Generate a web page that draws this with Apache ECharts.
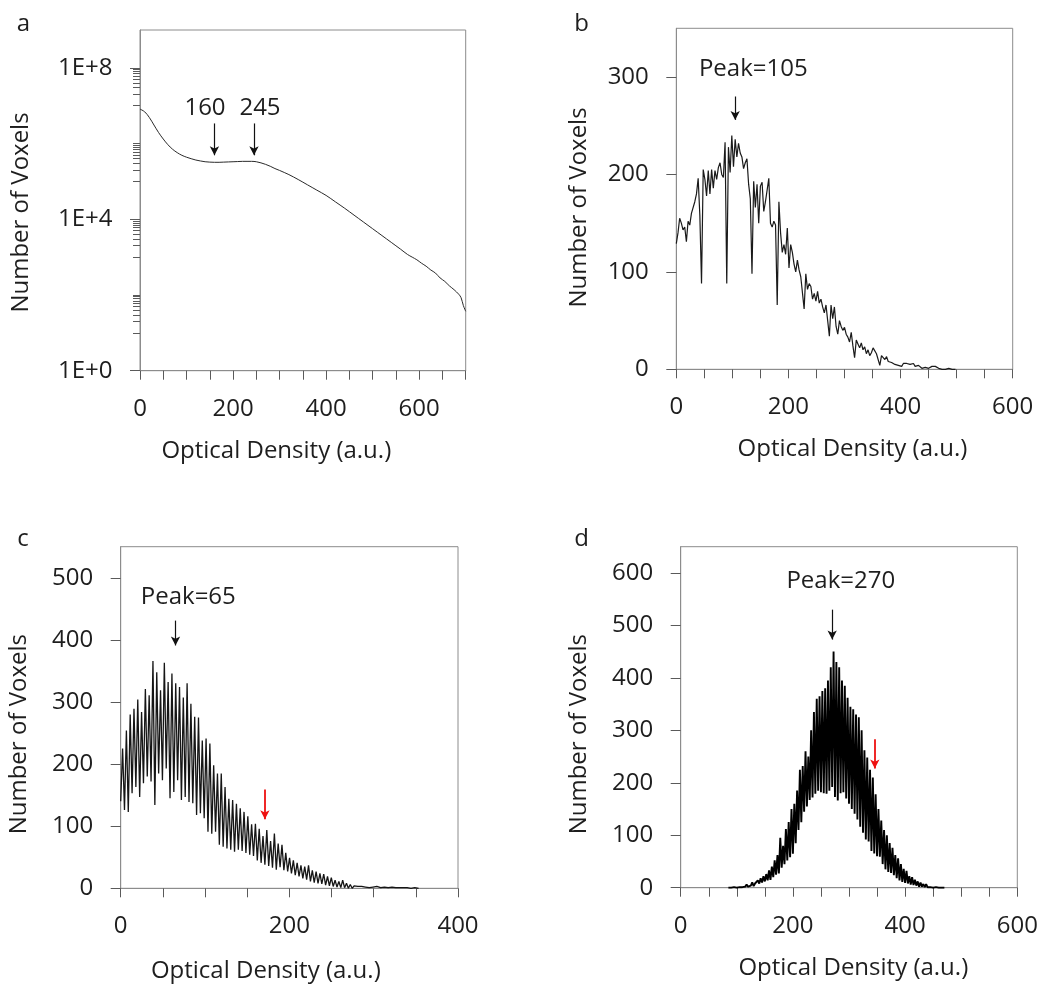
<!DOCTYPE html>
<html>
<head>
<meta charset="utf-8">
<script src="https://cdn.jsdelivr.net/npm/echarts@6/dist/echarts.min.js"></script>
<style>
  html, body { margin: 0; padding: 0; background: #ffffff; }
  #chart { width: 1040px; height: 986px; }
</style>
</head>
<body>
<div id="chart"></div>
<script>
// ---- Panel a: whole-volume histogram, log10 of voxel count ----
const aOD = [0,10,20,30,40,50,60,70,80,90,100,110,120,130,140,150,160,170,180,190,200,210,220,230,240,250,260,270,280,290,300,
  320,340,360,380,400,420,440,460,480,500,520,540,560,
  575,585,595,605,615,625,635,645,655,665,675,685,690,695,700];
const aLogCount = [6.91,6.84,6.69,6.49,6.29,6.12,5.97,5.85,5.76,5.69,5.64,5.60,5.565,5.54,5.52,5.51,5.505,5.505,5.51,5.515,
  5.52,5.525,5.53,5.53,5.53,5.52,5.49,5.45,5.40,5.34,5.29,
  5.18,5.05,4.91,4.77,4.63,4.46,4.29,4.11,3.93,3.75,3.57,3.39,3.21,
  3.07,3.00,2.93,2.84,2.76,2.66,2.58,2.45,2.36,2.24,2.14,2.02,1.93,1.72,1.57];
const aMarks = [160, 245];
const aMarkTop = 3.4e6, aMarkBottom = 4.9e5;

// ---- Panel b: counts every 3 OD units ----
const bStep = 3;
const bCount = [129,140,155,150,143,146,131,152,148,160,158,172,180,196,158,88,205,195,178,204,
  180,205,186,204,195,207,212,200,197,233,88,228,202,240,208,236,218,232,222,218,
  206,212,216,190,175,98,193,166,190,150,188,192,162,172,170,196,150,146,152,148,
  66,172,140,120,128,118,145,104,128,120,108,100,112,102,95,96,62,98,82,88,
  85,72,78,70,80,68,72,64,58,66,50,34,66,52,64,44,36,50,44,40,
  43,36,33,28,38,24,12,30,26,22,27,20,23,16,20,14,17,22,20,16,
  14,4,14,12,10,13,8,10,7,9,5,7,4,5,3,6,4,6,8,5,
  4,6,3,2,4,2,1,3,2,3,1,2,3,1,3,2,1,1,0,1,0,0,1,0,0,0,0];
const bPeak = 105;
const bMarkTop = 280, bMarkBottom = 256;

// ---- Panel c: alternating trough / crest values, period 4.5 OD units ----
const cStep = 4.5;
const cTrough = [140,126,123,153,163,147,169,180,172,134,185,174,193,145,155,174,142,147,139,137,
  118,121,113,91,88,91,70,67,64,62,59,
  62,60,57,54,52,45,41,38,36,33,30,34,29,27,24,21,19,16,14,11,9,8,7,5,4,3,2,1,1,0,0,1,0,0,0,0,0,0,0,0];
const cCrest = [225,254,280,289,304,284,321,311,366,348,319,363,332,346,330,324,307,330,297,276,
  275,238,241,233,198,185,185,163,144,142,136,
  129,123,116,103,104,96,84,94,76,88,72,70,57,49,45,41,37,35,37,29,27,24,23,19,17,13,11,13,8,6,
  4,3,3,2,1,2,3,1,2,1,2,1,1,1,1,0,1,0];
const cPeak = 65;
const cMarkTop = 431, cMarkBottom = 391;
const cRedX = 171, cRedTop = 159, cRedBottom = 111;

// ---- Panel d: alternating trough / crest values, period 5 OD units from 85 ----
const dStart = 85, dStep = 5;
const dTrough = [0,0,1,0,1,1,2,2,4,3,6,8,10,12,14,15,20,25,27,38,45,52,58,65,85,110,125,145,155,167,
  172,179,185,182,180,179,185,192,173,166,180,182,170,160,150,141,130,116,105,92,88,70,65,60,59,
  45,35,30,28,24,18,14,11,9,8,6,5,4,2,2,1,1,1,0,1,0,0,0];
const dCrest = [2,1,3,2,4,3,6,5,10,8,14,18,22,26,33,40,52,62,95,80,112,125,150,160,185,225,232,260,250,300,
  335,360,365,375,380,395,420,450,430,420,395,385,362,345,340,330,325,300,262,248,225,210,178,150,128,
  110,100,85,76,62,56,45,36,32,22,20,15,12,10,7,7,4,3,3,1,1,0];
const dPeak = 270;
const dMarkTop = 530, dMarkBottom = 473;
const dRedX = 346, dRedTop = 283, dRedBottom = 227;

// ---- tick positions ----
const aMajorTicks = [1, 1e4, 1e8];
const aMinorTicks = [];
[1, 3, 5, 7].forEach(function (n) {
  for (let k = 1; k <= 10; k++) aMinorTicks.push(k * Math.pow(10, n));
});

// ---- build series tables ----
const seriesA = aOD.map((x, i) => [x, Math.pow(10, aLogCount[i])]);
const seriesB = bCount.map((v, i) => [i * bStep, v]);
function interleave(start, step, trough, crest) {
  const out = [];
  const n = Math.max(trough.length, crest.length);
  for (let i = 0; i < n; i++) {
    if (i < trough.length) out.push([start + i * step, trough[i]]);
    if (i < crest.length) out.push([start + i * step + step / 2, crest[i]]);
  }
  return out;
}
const seriesC = interleave(0, cStep, cTrough, cCrest);
const seriesD = interleave(dStart, dStep, dTrough, dCrest);

const FONT = 'Open Sans';
const TEXT = '#1e1e1e';
const AXIS = '#8c8c8c';
const TICK = '#5a5a5a';
const RED = '#ee1111';

function xAxisCfg(grid, max) {
  return {
    type: 'value', gridIndex: grid, min: 0, max: max, interval: 50,
    axisLine: { show: true, onZero: false, lineStyle: { color: AXIS, width: 1 } },
    axisTick: { show: true, length: 9, lineStyle: { color: TICK, width: 1 } },
    axisLabel: {
      margin: 26, fontSize: 24, fontFamily: FONT, color: TEXT,
      formatter: v => (v % 200 === 0 ? String(v) : '')
    },
    splitLine: { show: false }
  };
}
function yAxisCfg(grid, max, ticks) {
  return {
    type: 'value', gridIndex: grid, min: 0, max: max, interval: 100,
    axisLine: { show: true, onZero: false, lineStyle: { color: AXIS, width: 1 } },
    axisTick: { show: true, length: 10, customValues: ticks, lineStyle: { color: TICK, width: 1 } },
    axisLabel: { margin: 27.5, fontSize: 24, fontFamily: FONT, color: TEXT, customValues: ticks },
    splitLine: { show: false }
  };
}
function gridCfg(left, top, width, height) {
  return { left, top, width, height, show: true, borderColor: AXIS, borderWidth: 1,
           backgroundColor: 'transparent', containLabel: false, outerBoundsMode: 'none' };
}
function arrow(x, top, bottom, color, width) {
  return [
    { coord: [x, top], lineStyle: { color: color, width: width || 1.2, type: 'solid' }, itemStyle: { color: color } },
    { coord: [x, bottom] }
  ];
}
function marks(list) {
  return {
    silent: true, animation: false,
    symbol: ['none', 'arrow'], symbolSize: [7, 9],
    label: { show: false },
    lineStyle: { color: '#111', width: 1.2, type: 'solid' },
    data: list
  };
}
function txt(x, y, text, extra) {
  return Object.assign({
    type: 'text', x: x, y: y, silent: true,
    style: { text: text, fontSize: 24, fontFamily: FONT, fill: TEXT, align: 'center', verticalAlign: 'middle' }
  }, extra || {});
}

const option = {
  animation: false,
  backgroundColor: '#ffffff',
  grid: [
    gridCfg(140, 30, 325.7, 340.7),
    gridCfg(676.3, 28.3, 336.4, 341),
    gridCfg(120.7, 546.7, 337.3, 341.6),
    gridCfg(680.7, 546.7, 336.6, 341)
  ],
  xAxis: [
    xAxisCfg(0, 700),
    xAxisCfg(1, 600),
    xAxisCfg(2, 400),
    xAxisCfg(3, 600)
  ],
  yAxis: [
    {
      type: 'log', logBase: 10, gridIndex: 0, min: 1, max: 1e9,
      axisLine: { show: true, onZero: false, lineStyle: { color: AXIS, width: 1 } },
      axisTick: { show: true, length: 10, customValues: aMajorTicks, lineStyle: { color: TICK, width: 1 } },
      axisLabel: {
        margin: 27.5, fontSize: 24, fontFamily: FONT, color: TEXT, customValues: aMajorTicks,
        formatter: v => '1E+' + Math.round(Math.log10(v))
      },
      splitLine: { show: false }
    },
    {
      type: 'log', logBase: 10, gridIndex: 0, min: 1, max: 1e9, position: 'left',
      axisLine: { show: false },
      axisTick: { show: true, length: 7, customValues: aMinorTicks, lineStyle: { color: TICK, width: 1 } },
      axisLabel: { show: false },
      splitLine: { show: false }
    },
    yAxisCfg(1, 350, [0, 100, 200, 300]),
    yAxisCfg(2, 550, [0, 100, 200, 300, 400, 500]),
    yAxisCfg(3, 650, [0, 100, 200, 300, 400, 500, 600])
  ],
  series: [
    {
      type: 'line', xAxisIndex: 0, yAxisIndex: 0, data: seriesA, smooth: 0.35,
      showSymbol: false, symbol: 'none', lineStyle: { color: '#2a2a2a', width: 1 },
      markLine: marks(aMarks.map(x => arrow(x, aMarkTop, aMarkBottom, '#111')))
    },
    {
      type: 'line', xAxisIndex: 1, yAxisIndex: 2, data: seriesB,
      showSymbol: false, symbol: 'none', lineStyle: { color: '#1a1a1a', width: 1.2 },
      markLine: marks([arrow(bPeak, bMarkTop, bMarkBottom, '#111')])
    },
    {
      type: 'line', xAxisIndex: 2, yAxisIndex: 3, data: seriesC,
      showSymbol: false, symbol: 'none', lineStyle: { color: '#151515', width: 1.3 },
      markLine: marks([arrow(cPeak, cMarkTop, cMarkBottom, '#111'), arrow(cRedX, cRedTop, cRedBottom, RED, 1.8)])
    },
    {
      type: 'line', xAxisIndex: 3, yAxisIndex: 4, data: seriesD,
      showSymbol: false, symbol: 'none', lineStyle: { color: '#000000', width: 1.9 },
      markLine: marks([arrow(dPeak, dMarkTop, dMarkBottom, '#111'), arrow(dRedX, dRedTop, dRedBottom, RED, 1.8)])
    }
  ],
  graphic: [
    // panel letters
    txt(23.3, 24.5, 'a'),
    txt(581.7, 24, 'b'),
    txt(23, 539, 'c'),
    txt(581.7, 539.5, 'd'),
    // annotations
    txt(205, 108, '160'),
    txt(260, 108, '245'),
    txt(753.3, 69, 'Peak=105'),
    txt(188.3, 597.5, 'Peak=65'),
    txt(840.8, 581, 'Peak=270'),
    // axis titles
    txt(276.3, 451, 'Optical Density (a.u.)'),
    txt(852.5, 449, 'Optical Density (a.u.)'),
    txt(265.8, 971.5, 'Optical Density (a.u.)'),
    txt(853.3, 968, 'Optical Density (a.u.)'),
    txt(21.5, 212.5, 'Number of Voxels', { rotation: Math.PI / 2 }),
    txt(579.5, 207.5, 'Number of Voxels', { rotation: Math.PI / 2 }),
    txt(19, 734.2, 'Number of Voxels', { rotation: Math.PI / 2 }),
    txt(579, 734.2, 'Number of Voxels', { rotation: Math.PI / 2 })
  ]
};

const chart = echarts.init(document.getElementById('chart'), null, { renderer: 'canvas', width: 1040, height: 986 });
chart.setOption(option);
</script>
</body>
</html>
